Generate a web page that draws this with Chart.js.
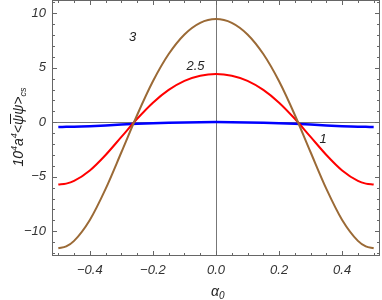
<!DOCTYPE html>
<html>
<head>
<meta charset="utf-8">
<script src="https://cdn.jsdelivr.net/npm/chart.js@4/dist/chart.umd.min.js"></script>
<style>
  html, body { margin: 0; padding: 0; background: #fff; }
  #wrap { width: 382px; height: 300px; }
</style>
</head>
<body>
<div id="wrap"><canvas id="myChart" width="382" height="300"></canvas></div>
<script>
// alpha_0 values
const alpha0 = [-0.5, -0.475, -0.45, -0.4, -0.35, -0.3, -0.25, -0.2, -0.15, -0.1, -0.05, 0,
                0.05, 0.1, 0.15, 0.2, 0.25, 0.3, 0.35, 0.4, 0.45, 0.475, 0.5];
// curve labelled "3"
const curve3 = [-11.56, -11.39, -10.88, -8.96, -6.11, -2.75, 0.67, 3.76, 6.26, 8.06, 9.13, 9.48,
                9.13, 8.06, 6.26, 3.76, 0.67, -2.75, -6.11, -8.96, -10.88, -11.39, -11.56];
// curve labelled "2.5"
const curve25 = [-5.72, -5.63, -5.38, -4.42, -3.0, -1.34, 0.32, 1.8, 2.97, 3.8, 4.27, 4.43,
                 4.27, 3.8, 2.97, 1.8, 0.32, -1.34, -3.0, -4.42, -5.38, -5.63, -5.72];
// curve labelled "1"
const curve1 = [-0.43, -0.42, -0.41, -0.36, -0.29, -0.21, -0.14, -0.08, -0.04, -0.01, 0.01, 0.02,
                0.01, -0.01, -0.04, -0.08, -0.14, -0.21, -0.29, -0.36, -0.41, -0.42, -0.43];

const xTicks = [-0.4, -0.2, 0, 0.2, 0.4];
const yTicks = [-10, -5, 0, 5, 10];
const curveNames = ['3', '2.5', '1'];
const nameSpots = [[-0.264, 7.8], [-0.065, 5.15], [0.34, -1.6]];

const toPts = ys => ys.map((y, i) => ({ x: alpha0[i], y: y }));
const tickFont = { family: 'Liberation Sans', size: 13, style: 'italic' };
const inkColor = '#333';
const frameColor = '#666';

const framePlugin = {
    id: 'frame',
    afterDatasetsDraw(chart) {
        const ctx = chart.ctx;
        const area = chart.chartArea;
        const xs = chart.scales.x, ys = chart.scales.y;
        ctx.save();
        ctx.strokeStyle = frameColor;
        ctx.lineWidth = 1;
        ctx.strokeRect(area.left + 0.5, area.top + 0.5, area.right - area.left - 1, area.bottom - area.top - 1);
        ctx.beginPath();
        // inward ticks, x
        for (let v = -0.5; v <= 0.5001; v += 0.05) {
            const major = xTicks.some(t => Math.abs(t - v) < 1e-6);
            const len = major ? 5 : 3;
            const px = Math.round(xs.getPixelForValue(v)) + 0.5;
            ctx.moveTo(px, area.bottom); ctx.lineTo(px, area.bottom - len);
            ctx.moveTo(px, area.top); ctx.lineTo(px, area.top + len);
        }
        // inward ticks, y
        for (let v = -12; v <= 11; v += 1) {
            const major = v % 5 === 0;
            const len = major ? 5 : 3;
            const py = Math.round(ys.getPixelForValue(v)) + 0.5;
            ctx.moveTo(area.left, py); ctx.lineTo(area.left + len, py);
            ctx.moveTo(area.right, py); ctx.lineTo(area.right - len, py);
        }
        ctx.stroke();

        // curve names
        ctx.fillStyle = '#222';
        ctx.font = 'italic 13px "Liberation Sans"';
        ctx.textAlign = 'center';
        ctx.textBaseline = 'middle';
        curveNames.forEach((n, i) => {
            ctx.fillText(n, xs.getPixelForValue(nameSpots[i][0]), ys.getPixelForValue(nameSpots[i][1]));
        });

        // x title: alpha_0
        const cx = (area.left + area.right) / 2;
        ctx.font = 'italic 14px "Liberation Sans"';
        ctx.textAlign = 'right';
        ctx.fillText('\u03b1', cx + 3, 292);
        ctx.font = 'italic 10px "Liberation Sans"';
        ctx.textAlign = 'left';
        ctx.fillText('0', cx + 3, 296);

        // y title, rotated
        ctx.translate(18, 127);
        ctx.rotate(-Math.PI / 2);
        ctx.textBaseline = 'alphabetic';
        const parts = [
            ['10', 14, 0], ['4', 9, -6], ['a', 14, 0], ['4', 9, -6],
            ['<', 14, 0], ['\u03c8', 14, 0, true], ['\u03c8', 14, 0], ['>', 14, 0], ['cs', 9, 3]
        ];
        let w = 0;
        parts.forEach(p => { ctx.font = 'italic ' + p[1] + 'px "Liberation Sans"'; w += ctx.measureText(p[0]).width; });
        let pos = -w / 2;
        parts.forEach(p => {
            ctx.font = 'italic ' + p[1] + 'px "Liberation Sans"';
            const tw = ctx.measureText(p[0]).width;
            ctx.fillText(p[0], pos, 5 + p[2]);
            if (p[3]) {
                ctx.fillRect(pos + 1, 5 - 13, tw, 1);
            }
            pos += tw;
        });
        ctx.restore();
    }
};

new Chart(document.getElementById('myChart').getContext('2d'), {
    type: 'line',
    data: {
        datasets: [
            { label: curveNames[0], data: toPts(curve3), borderColor: '#9b6a36', borderWidth: 2 },
            { label: curveNames[1], data: toPts(curve25), borderColor: '#ff0000', borderWidth: 2 },
            { label: curveNames[2], data: toPts(curve1), borderColor: '#0000ff', borderWidth: 2.5 }
        ]
    },
    options: {
        responsive: false,
        animation: false,
        events: [],
        layout: { padding: { top: 0, right: 2, left: 0, bottom: 0 } },
        elements: {
            point: { radius: 0 },
            line: { cubicInterpolationMode: 'monotone', fill: false }
        },
        plugins: {
            legend: { display: false },
            tooltip: { enabled: false }
        },
        scales: {
            x: {
                type: 'linear',
                min: -0.52,
                max: 0.52,
                afterBuildTicks: s => { s.ticks = xTicks.map(v => ({ value: v })); },
                afterFit: s => { s.height = 44; s.paddingLeft = 0; s.paddingRight = 0; },
                border: { display: false },
                grid: {
                    drawTicks: false,
                    color: c => (c.tick && c.tick.value === 0 ? '#777' : 'rgba(0,0,0,0)'),
                    lineWidth: 1
                },
                ticks: {
                    padding: 7,
                    color: inkColor,
                    font: tickFont,
                    maxRotation: 0,
                    callback: v => v.toFixed(1).replace('-', '\u2212')
                }
            },
            y: {
                min: -12.27,
                max: 11.22,
                afterBuildTicks: s => { s.ticks = yTicks.map(v => ({ value: v })); },
                afterFit: s => { s.width = 52; s.paddingTop = 0; s.paddingBottom = 0; },
                border: { display: false },
                grid: {
                    drawTicks: false,
                    color: c => (c.tick && c.tick.value === 0 ? '#777' : 'rgba(0,0,0,0)'),
                    lineWidth: 1
                },
                ticks: {
                    padding: 6,
                    color: inkColor,
                    font: tickFont,
                    callback: v => String(v).replace('-', '\u2212')
                }
            }
        }
    },
    plugins: [framePlugin]
});
</script>
</body>
</html>
